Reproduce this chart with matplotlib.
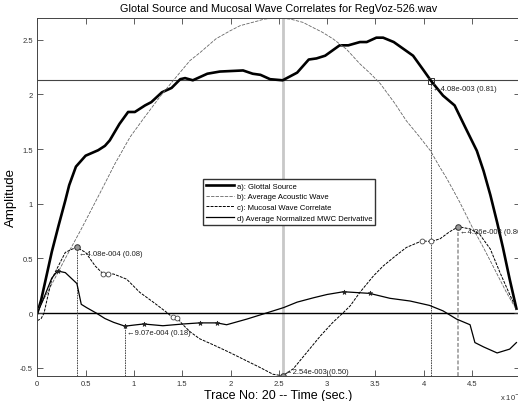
import numpy as np
import matplotlib
matplotlib.use('Agg')
import matplotlib.pyplot as plt
from matplotlib.ticker import FuncFormatter

plt.rcParams['font.family'] = ['Liberation Sans', 'DejaVu Sans']

# a) glottal source (x in ms, i.e. x10^-3 s)
a_x = [0, 0.04, 0.08, 0.15, 0.22, 0.29, 0.33, 0.40, 0.50, 0.63, 0.70, 0.75, 0.85, 0.94, 1.01,
       1.115, 1.18, 1.29, 1.39, 1.48, 1.53, 1.61, 1.76, 1.89, 2.13, 2.23, 2.31, 2.41, 2.54, 2.69,
       2.81, 2.89, 2.98, 3.13, 3.22, 3.34, 3.41, 3.51, 3.58, 3.69, 3.77, 3.89, 4.0, 4.08, 4.20,
       4.32, 4.43, 4.55, 4.62, 4.69, 4.76, 4.82, 4.89, 4.96]
a_y = [0, 0.12, 0.28, 0.56, 0.80, 1.03, 1.17, 1.34, 1.44, 1.49, 1.53, 1.58, 1.73, 1.84, 1.84,
       1.90, 1.93, 2.02, 2.06, 2.14, 2.15, 2.13, 2.19, 2.21, 2.22, 2.19, 2.18, 2.14, 2.13, 2.20,
       2.32, 2.33, 2.355, 2.45, 2.45, 2.48, 2.48, 2.52, 2.52, 2.48, 2.43, 2.355, 2.22, 2.12, 1.99,
       1.90, 1.70, 1.485, 1.30, 1.08, 0.83, 0.60, 0.31, 0.04]

# b) average acoustic wave
b_x = [0, 0.1, 0.29, 0.45, 0.65, 0.80, 0.96, 1.10, 1.27, 1.40, 1.58, 1.68, 1.85, 1.99, 2.10,
       2.27, 2.35, 2.48, 2.62, 2.75, 2.86, 2.95, 3.06, 3.2, 3.34, 3.45, 3.55, 3.70, 3.82, 3.95,
       4.07, 4.15, 4.24, 4.37, 4.5, 4.6, 4.7, 4.85, 4.96]
b_y = [0.02, 0.18, 0.50, 0.76, 1.10, 1.36, 1.61, 1.78, 1.98, 2.12, 2.31, 2.38, 2.51, 2.58, 2.63,
       2.67, 2.69, 2.70, 2.69, 2.66, 2.61, 2.57, 2.51, 2.415, 2.28, 2.19, 2.10, 1.92, 1.76, 1.62,
       1.485, 1.36, 1.23, 1.02, 0.79, 0.63, 0.46, 0.20, 0.03]

# c) mucosal wave correlate
c_x = [0, 0.04, 0.07, 0.10, 0.15, 0.20, 0.29, 0.36, 0.408, 0.50, 0.60, 0.68, 0.73, 0.79, 0.925,
       1.06, 1.20, 1.34, 1.40, 1.45, 1.50, 1.58, 1.68, 1.82, 1.99, 2.15, 2.31, 2.44, 2.54, 2.65,
       2.79, 2.93, 3.06, 3.17, 3.24, 3.34, 3.48, 3.58, 3.69, 3.82, 3.98, 4.08, 4.17, 4.27, 4.36,
       4.48, 4.58, 4.69, 4.79, 4.89, 4.96]
c_y = [-0.07, -0.05, 0.0, 0.12, 0.31, 0.40, 0.555, 0.585, 0.60, 0.555, 0.43, 0.36, 0.36, 0.357,
       0.31, 0.19, 0.10, 0.006, -0.04, -0.045, -0.10, -0.17, -0.235, -0.29, -0.36, -0.43, -0.50,
       -0.56, -0.574, -0.51, -0.36, -0.21, -0.085, 0.006, 0.067, 0.19, 0.34, 0.43, 0.51, 0.60,
       0.66, 0.655, 0.68, 0.745, 0.79, 0.77, 0.72, 0.585, 0.37, 0.17, 0.04]

# d) average normalized MWC derivative
d_x = [0, 0.05, 0.10, 0.15, 0.21, 0.29, 0.35, 0.41, 0.455, 0.51, 0.61, 0.70, 0.79, 0.907, 1.00,
       1.10, 1.30, 1.51, 1.68, 1.86, 1.96, 2.17, 2.37, 2.55, 2.69, 2.86, 3.0, 3.17, 3.44, 3.65,
       3.86, 4.06, 4.20, 4.34, 4.48, 4.53, 4.62, 4.76, 4.89, 4.96]
d_y = [0.0, 0.10, 0.21, 0.32, 0.385, 0.37, 0.32, 0.27, 0.08, 0.05, 0.0, -0.05, -0.085, -0.12,
       -0.11, -0.10, -0.116, -0.10, -0.09, -0.09, -0.107, -0.055, 0.0, 0.05, 0.10, 0.14, 0.17,
       0.195, 0.18, 0.135, 0.11, 0.07, 0.02, -0.055, -0.107, -0.27, -0.31, -0.365, -0.33, -0.27]

# markers
c_circle_x = [0.68, 0.73, 1.40, 1.45, 3.98, 4.08]
c_circle_y = [0.36, 0.36, -0.04, -0.045, 0.66, 0.655]
d_star_x = [0.21, 0.907, 1.10, 1.68, 1.86, 3.17, 3.44]
d_star_y = [0.385, -0.12, -0.10, -0.09, -0.09, 0.195, 0.18]

# picked points and their labels
picks_x = [0.408, 0.907, 2.54, 4.08, 4.36]
picks_y = [0.60, -0.12, -0.574, 2.12, 0.79]
picks_txt = ['4.08e-004 (0.08)', '9.07e-004 (0.18)', '2.54e-003 (0.50)',
             '4.08e-003 (0.81)', '4.36e-003 (0.86)']
picks_dy = [-6, -6, 4, -7, -5]

h_level = 2.13

fig = plt.figure(figsize=(5.18, 4.02), dpi=100)
ax = fig.add_axes([37.3 / 518, 25 / 402, (519.5 - 37.3) / 518, 358 / 402])

ax.axhline(0, color='black', lw=1.0, zorder=1)
ax.axhline(h_level, color='#444444', lw=0.8, zorder=1)
ax.axvline(picks_x[2], color='#c8c8c8', lw=2.0, zorder=0)

ylo = -0.576
ax.plot([picks_x[0], picks_x[0]], [ylo, picks_y[0]], color='#333333', lw=0.6, ls=(0, (2, 1)))
ax.plot([picks_x[1], picks_x[1]], [ylo, picks_y[1]], color='#333333', lw=0.6, ls=(0, (2, 1)))
ax.plot([picks_x[3], picks_x[3]], [ylo, picks_y[3]], color='#333333', lw=0.6, ls=(0, (2, 1)))
ax.plot([picks_x[4], picks_x[4]], [ylo, picks_y[4]], color='#aaaaaa', lw=1.4, ls=(0, (2, 1)))

ax.plot(a_x, a_y, color='black', lw=1.9, label='a): Glottal Source')
ax.plot(b_x, b_y, color='#666666', lw=0.6, ls=(0, (4, 1.5)), label='b): Average Acoustic Wave')
ax.plot(c_x, c_y, color='black', lw=0.7, ls=(0, (3, 1.2)), label='c): Mucosal Wave Correlate')
ax.plot(d_x, d_y, color='black', lw=0.9, label='d) Average Normalized MWC Derivative')

ax.plot(c_circle_x, c_circle_y, ls='none', marker='o', ms=3.5, mfc='white', mec='#444444', mew=0.6)
ax.plot(d_star_x, d_star_y, ls='none', marker='*', ms=3.5, color='#222222', mew=0.5)
ax.plot([picks_x[0], picks_x[2], picks_x[4]], [picks_y[0], picks_y[2], picks_y[4]],
        ls='none', marker='o', ms=4, mfc='#999999', mec='#333333', mew=0.7)
ax.plot([picks_x[3]], [picks_y[3]], ls='none', marker='s', ms=4.5, mfc='none', mec='#333333', mew=0.7)

for x, y, t, dy in zip(picks_x, picks_y, picks_txt, picks_dy):
    ax.annotate('\u2190' + t, xy=(x, y), xytext=(2, dy), textcoords='offset pixels',
                fontsize=5.5, va='center', ha='left', color='#222222')

ax.set_xlim(0, (519.5 - 37.3) / 96.6)
ax.set_ylim(ylo, 2.70)
ax.set_xticks(np.arange(0, 5, 0.5))
ax.set_yticks([-0.5, 0, 0.5, 1, 1.5, 2, 2.5])
fmt = FuncFormatter(lambda v, p: f'{v:g}')
ax.xaxis.set_major_formatter(fmt)
ax.yaxis.set_major_formatter(fmt)
ax.tick_params(direction='in', top=True, right=True, length=4, width=0.6,
               labelsize=5.5, labelcolor='#333333', color='#444444', pad=3)
for s in ax.spines.values():
    s.set_color('#444444')
    s.set_linewidth(0.7)

ax.set_title('Glotal Source and Mucosal Wave Correlates for RegVoz-526.wav', fontsize=7.8, pad=5)
ax.set_xlabel('Trace No: 20 -- Time (sec.)', fontsize=9, labelpad=1)
ax.set_ylabel('Amplitude', fontsize=9.5, labelpad=2)
fig.text(500 / 518, 1 - 397 / 402, 'x 10$^{-3}$', fontsize=5.5, va='center', ha='left', color='#333333')

ax.legend(loc='upper left', bbox_to_anchor=(0.344, 0.55), fontsize=5.5, handlelength=3.6,
          frameon=True, fancybox=False, edgecolor='#333333', framealpha=1,
          borderaxespad=0, labelspacing=0.45, handletextpad=0.4, borderpad=0.4)

fig.savefig('out.png', dpi=100)
